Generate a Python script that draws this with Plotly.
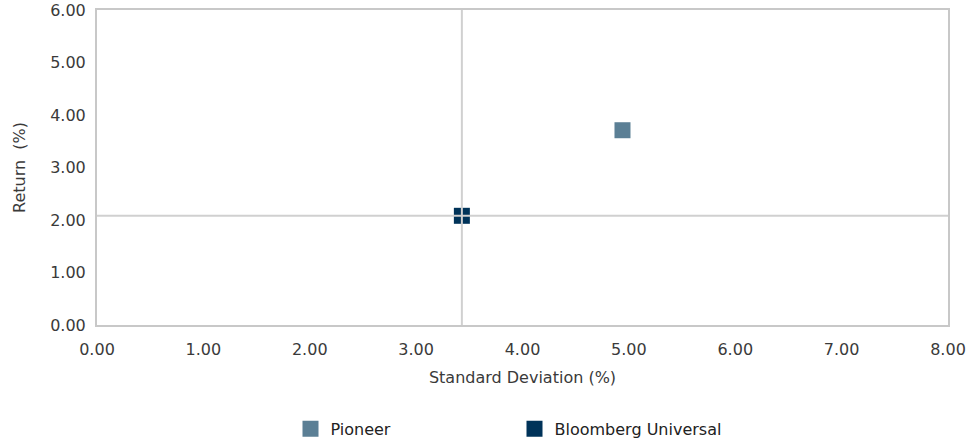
import plotly.graph_objects as go

series_names = ["Pioneer", "Bloomberg Universal"]
std_dev = [4.94, 3.43]
returns = [3.71, 2.08]
colors = ["#5b7f95", "#003359"]
x_ticks = [0, 1, 2, 3, 4, 5, 6, 7, 8]
y_ticks = [0, 1, 2, 3, 4, 5, 6]

FONT = "DejaVu Sans"
fig = go.Figure()
for name, x, y, c in zip(series_names, std_dev, returns, colors):
    fig.add_trace(go.Scatter(x=[x], y=[y], mode="markers", name=name,
                             marker=dict(symbol="square", size=16, color=c)))

bx, by = std_dev[1], returns[1]
fig.add_shape(type="line", xref="x", yref="paper", x0=bx, x1=bx, y0=0, y1=1,
              line=dict(color="#d0d0d0", width=2), layer="above")
fig.add_shape(type="line", xref="paper", yref="y", x0=0, x1=1, y0=by, y1=by,
              line=dict(color="#d0d0d0", width=2), layer="above")

fig.update_layout(
    width=970, height=439,
    margin=dict(l=97, r=22, t=10, b=114, autoexpand=False),
    paper_bgcolor="white", plot_bgcolor="white",
    font=dict(family=FONT, size=16, color="#3a3a3a"),
    showlegend=True,
    legend=dict(orientation="h", x=0.4906, xanchor="center", y=-0.276, yanchor="top",
                font=dict(size=16, color="#222222"), entrywidth=179, itemsizing="trace"),
    xaxis=dict(range=[0, 8], tickvals=x_ticks, ticktext=[f"{v:.2f}" for v in x_ticks],
               showgrid=False, zeroline=False, showline=True, linecolor="#c8c8c8",
               linewidth=2, mirror=True, ticks="", automargin=False, ticklabelstandoff=9,
               tickfont=dict(size=16),
               title=dict(text="Standard Deviation (%)", standoff=14, font=dict(size=16))),
    yaxis=dict(range=[0, 6], tickvals=y_ticks, ticktext=[f"{v:.2f}" for v in y_ticks],
               showgrid=False, zeroline=False, showline=True, linecolor="#c8c8c8",
               linewidth=2, mirror=True, ticks="", automargin=False, ticklabelstandoff=6,
               tickfont=dict(size=16),
               title=dict(text="Return  (%)", standoff=21, font=dict(size=16))),
)
fig.write_html("out.html", config={"displayModeBar": False},
               post_script="document.body.style.margin='0';")
